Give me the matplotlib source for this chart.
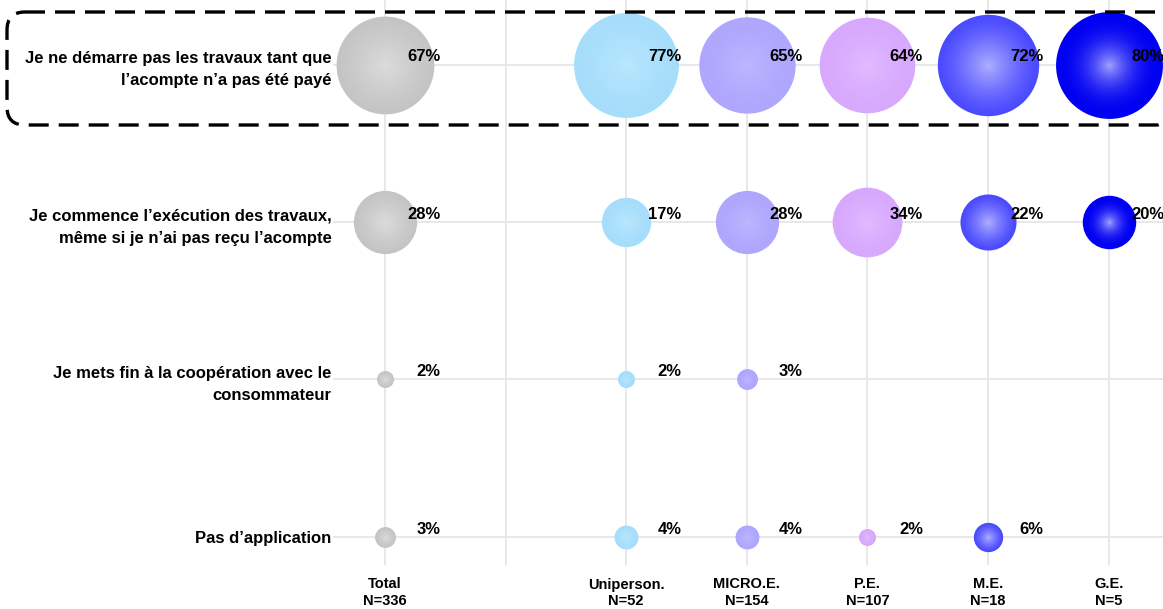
import numpy as np
import matplotlib.pyplot as plt
from matplotlib.patches import FancyBboxPatch
from matplotlib.colors import to_rgb

plt.rcParams['font.family'] = ['Liberation Sans', 'DejaVu Sans']

# column headers (second column is an empty spacer)
columns = ['Total', '', 'Uniperson.', 'MICRO.E.', 'P.E.', 'M.E.', 'G.E.']
bases = ['N=336', '', 'N=52', 'N=154', 'N=107', 'N=18', 'N=5']

answers = ['Je ne démarre pas les travaux tant que\nl\u2019acompte n\u2019a pas été payé',
           'Je commence l\u2019exécution des travaux,\nmême si je n\u2019ai pas reçu l\u2019acompte',
           'Je mets fin à la coopération avec le\nconsommateur',
           'Pas d\u2019application']

# percentages per answer, None = no bubble
total = [67, 28, 2, 3]
uniperson = [77, 17, 2, 4]
micro = [65, 28, 3, 4]
pe = [64, 34, None, 2]
me = [72, 22, None, 6]
ge = [80, 20, None, None]

series = [total, None, uniperson, micro, pe, me, ge]
edge_cols = ['#c4c4c4', None, '#a6ddfb', '#afa6fd', '#d7a8fd', '#4a4aff', '#0000f2']
center_cols = ['#dcdcdc', None, '#bae7fd', '#bdb7ff', '#e1bcff', '#b0b0ff', '#a8a8ff']
powers = [1.2, None, 1.5, 1.5, 1.5, 1.3, 2.2]

fig = plt.figure(figsize=(11.63, 6.09), dpi=100)
ax = fig.add_axes([333 / 1163, 44 / 609, 830 / 1163, 565 / 609])

ax.set_xlim(-0.43, 6.45)
ax.set_ylim(3.18, -0.41)
ax.set_xticks(range(len(columns)))
ax.set_xticklabels([c + '\n' + n if c else '' for c, n in zip(columns, bases)],
                   fontsize=10.5, fontweight='bold')
ax.set_yticks(range(len(answers)))
ax.set_yticklabels(answers, fontsize=12, fontweight='bold', linespacing=1.6)
ax.tick_params(axis='x', length=0, pad=9)
ax.tick_params(axis='y', length=0, pad=1)
ax.grid(True, color='#e6e6e6', lw=1.3)
ax.set_axisbelow(True)
for sp in ax.spines.values():
    sp.set_visible(False)

scale = 74.0  # points^2 per percent (area proportional)
nlayers = 30
for i, vals in enumerate(series):
    if vals is None:
        continue
    e = np.array(to_rgb(edge_cols[i]))
    c = np.array(to_rgb(center_cols[i]))
    for j, v in enumerate(vals):
        if v is None:
            continue
        s = scale * v
        for k in range(nlayers):
            frac = 1 - k / nlayers
            t = (k / nlayers) ** powers[i]
            col = e + (c - e) * t
            ax.scatter(i, j, s=s * frac ** 2, color=col, linewidths=0, zorder=3 + k * 0.01)
        ax.annotate(f'{v}%', (i, j), xytext=(40, 5.5), textcoords='offset points',
                    ha='right', va='center', fontsize=12, fontweight='bold', zorder=10)

# dashed highlight around the first answer
ov = fig.add_axes([0, 0, 1, 1], zorder=5)
ov.set_xlim(0, 1163)
ov.set_ylim(609, 0)
ov.axis('off')
box = FancyBboxPatch((7, 12), 1168, 113, boxstyle='round,pad=0,rounding_size=18',
                     fill=False, ec='black', lw=2.4, ls=(0, (6, 3)))
ov.add_patch(box)

fig.savefig('out.png', dpi=100)
